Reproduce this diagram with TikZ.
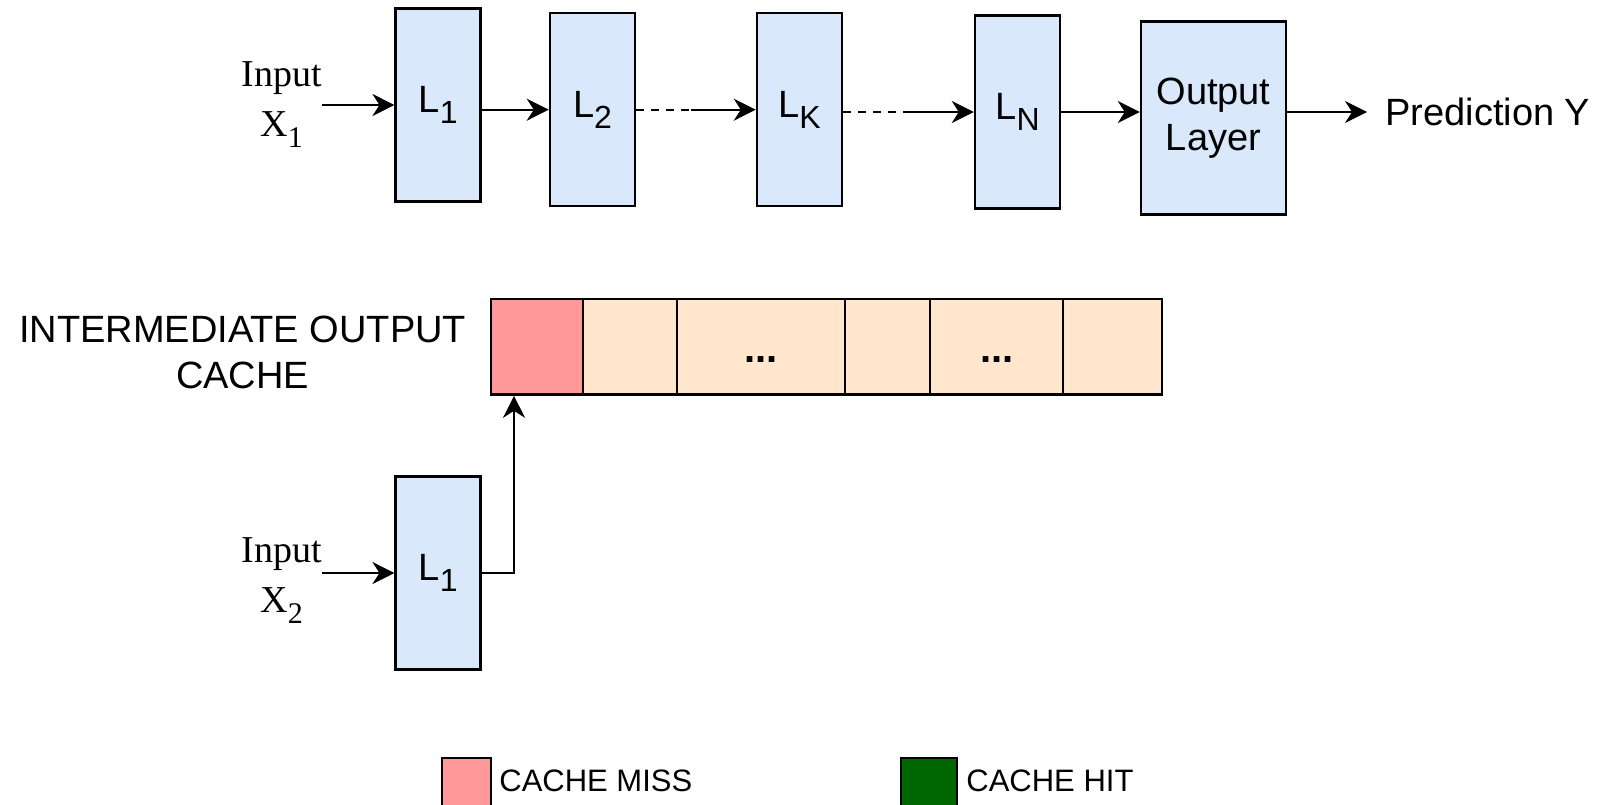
\documentclass[tikz,border=0pt]{standalone}
\usepackage{fontspec}
\setmainfont{Liberation Sans}
\newfontfamily\serifface{Liberation Serif}
\usetikzlibrary{arrows.meta,calc}

\definecolor{layerblue}{HTML}{DAE8FC}
\definecolor{cachepeach}{HTML}{FFE6CC}
\definecolor{missred}{HTML}{FF9999}
\definecolor{hitgreen}{HTML}{006600}

% layer name with a lowered index
\newcommand{\lsub}[2]{#1\raisebox{-5.3pt}{\fontsize{16}{16}\selectfont #2}}
% serif symbol with a lowered index
\newcommand{\xsub}[2]{#1\raisebox{-5.5pt}{\fontsize{15}{15}\selectfont #2}}

\begin{document}
\begin{tikzpicture}[x=0.5pt,y=-0.5pt,
  layer/.style={draw=black, line width=1.25pt, fill=layerblue,
    minimum width=42.5pt, minimum height=96.5pt, inner sep=0pt,
    font=\fontsize{19}{23}\selectfont},
  cell/.style={draw=black, line width=1.2pt, fill=cachepeach,
    minimum height=47.9pt, inner sep=0pt, anchor=north west},
  key/.style={draw=black, line width=1.2pt, inner sep=0pt, anchor=north west},
  link/.style={line width=1pt, -{Stealth[length=11pt,width=11pt,inset=3.5pt]}},
  dashline/.style={line width=1pt, dash pattern=on 4pt off 3.5pt},
  label/.style={font=\fontsize{19}{23}\selectfont, inner sep=0pt},
  seriflabel/.style={font={\serifface\fontsize{19}{25}\selectfont}, inner sep=0pt, align=center},
  keylabel/.style={font=\fontsize{15.5}{18}\selectfont, inner sep=0pt, anchor=west},
  gap/.style={font=\bfseries\fontsize{20}{23}\selectfont, inner sep=0pt, anchor=base}
]
\useasboundingbox (0,0) rectangle (1598,804);
\clip (0,0) rectangle (1598,804);

% ---- forward pass through the network ----
\node[seriflabel] (in1) at (281.7,105) {Input\\\xsub{X}{1}};
\node[layer] (L1) at (438.2,105) {\lsub{L}{1}};
\node[layer] (L2) at (592.5,109.7) {\lsub{L}{2}};
\node[layer] (LK) at (799.5,109.7) {\lsub{L}{K}};
\node[layer] (LN) at (1017.5,112) {\lsub{L}{N}};
\node[layer, minimum width=72.5pt, align=center] (OUT) at (1213.5,118) {Output\\Layer};
\node[label, anchor=west, inner xsep=9pt] (pred) at (1367,112) {Prediction Y};

\draw[link] (in1.east |- L1.west) -- (L1.west);
\draw[link] (L1.east |- L2.west) -- (L2.west);
\draw[dashline] (L2.east) -- ++(55,0) coordinate (d1);
\draw[link] (d1) -- (LK.west);
\draw[dashline] (LK.east |- LN.west) -- ++(63,0) coordinate (d2);
\draw[link] (d2) -- (LN.west);
\draw[link] (LN.east) -- (LN.east -| OUT.west);
\draw[link] (OUT.east |- pred.west) -- (pred.west);

% ---- cache of intermediate outputs ----
\node[label, align=center] (ctitle) at (242.6,352) {INTERMEDIATE OUTPUT\\CACHE};
\node[cell, fill=missred, minimum width=46pt] (c0) at (490,297.6) {};
\node[cell, minimum width=47pt] (c1) at (582,297.6) {};
\node[cell, minimum width=84pt] (c2) at (676,297.6) {};
\node[cell, minimum width=42.5pt] (c3) at (844,297.6) {};
\node[cell, minimum width=66.5pt] (c4) at (929,297.6) {};
\node[cell, minimum width=49.5pt] (c5) at (1062,297.6) {};
\node[gap] (g1) at ($(c2.center)+(0,15.5)$) {...};
\node[gap] (g2) at ($(c4.center)+(0,15.5)$) {...};

% ---- second input hitting the cache ----
\node[seriflabel] (in2) at (281.7,581) {Input\\\xsub{X}{2}};
\node[layer] (M1) at (438.2,573) {\lsub{L}{1}};
\coordinate (slot) at ($(c0.south west)+(24,0)$);
\draw[link] (in2.east |- M1.west) -- (M1.west);
\draw[link] (M1.east) -| (slot);

% ---- legend ----
\node[key, fill=missred, minimum width=24.5pt, minimum height=24.5pt] (kmiss) at (441,757) {};
\node[keylabel] (tmiss) at (499,781) {CACHE MISS};
\node[key, fill=hitgreen, minimum width=28pt, minimum height=28pt] (khit) at (900,757) {};
\node[keylabel] (thit) at (966,781) {CACHE HIT};
\end{tikzpicture}
\end{document}
